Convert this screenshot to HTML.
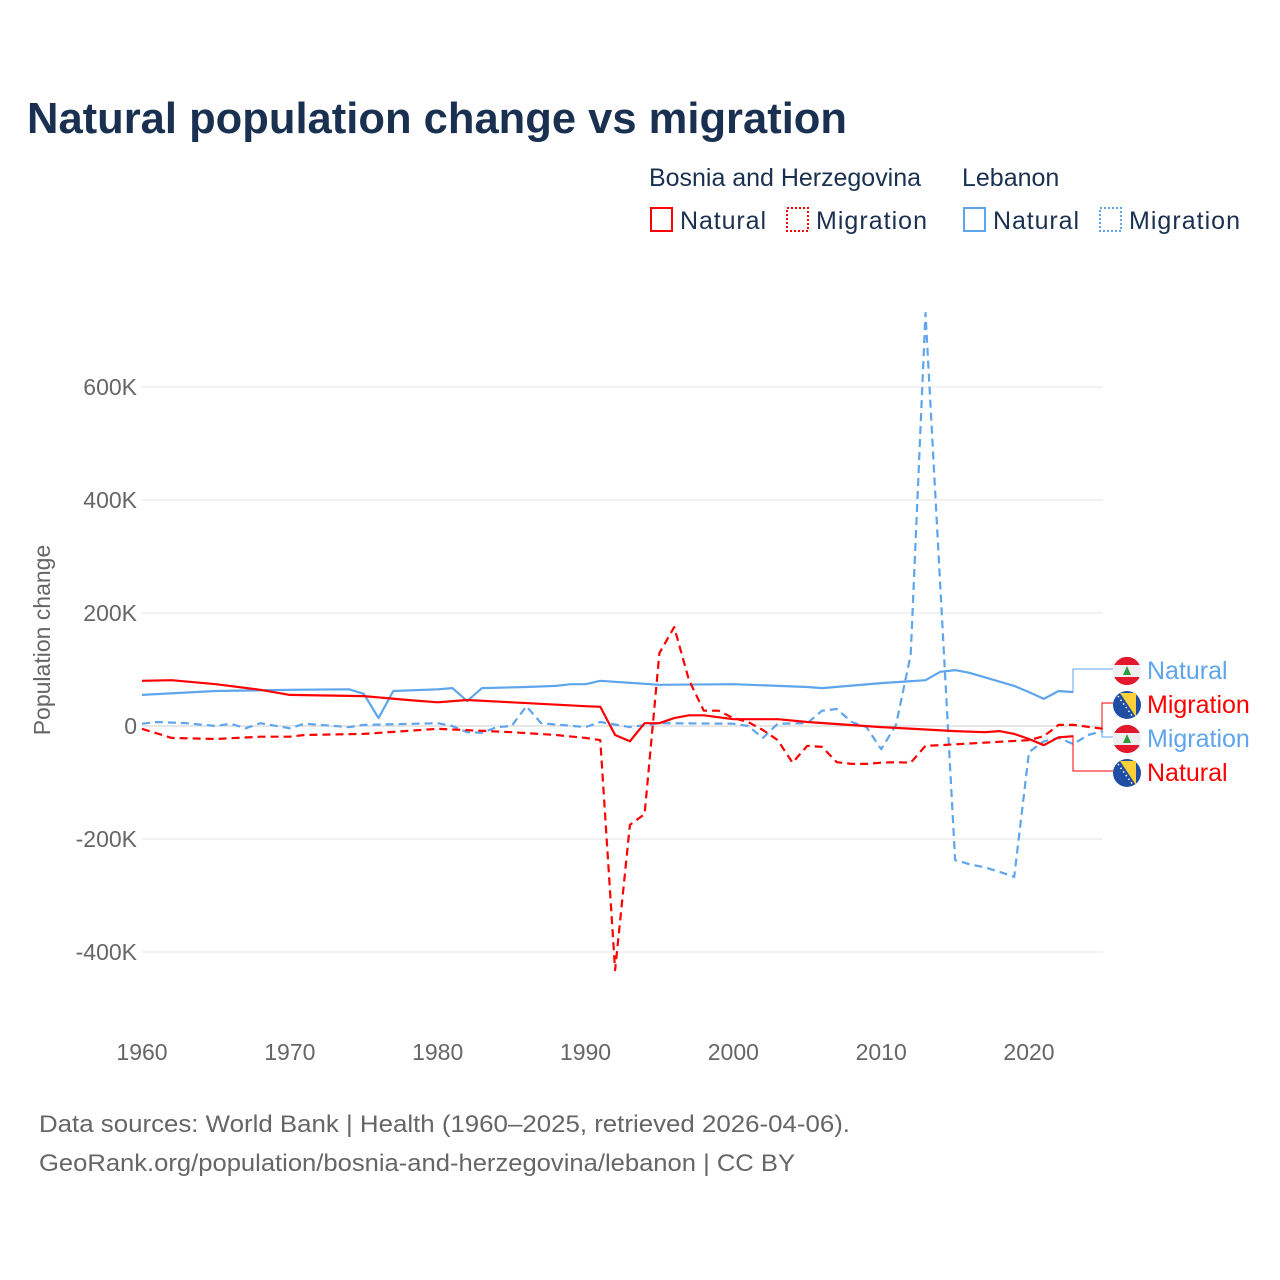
<!DOCTYPE html>
<html><head><meta charset="utf-8"><style>
body{margin:0;background:#fff;}
svg{display:block;font-family:"Liberation Sans",sans-serif;}
</style></head><body>
<svg id="chart" width="1280" height="1280" viewBox="0 0 1280 1280">
<text x="27" y="133" font-size="44" font-weight="bold" fill="#1a3050" textLength="820" lengthAdjust="spacingAndGlyphs">Natural population change vs migration</text>
<g font-size="25" fill="#1a3050">
<text x="649" y="186" textLength="272">Bosnia and Herzegovina</text>
<text x="962" y="186">Lebanon</text>
<g><rect x="651" y="208" width="21" height="23" fill="none" stroke="#f00" stroke-width="2"/><text x="680" y="229" textLength="86">Natural</text></g>
<g><rect x="787" y="208" width="21" height="23" fill="none" stroke="#f00" stroke-width="2" stroke-dasharray="2,2"/><text x="816" y="229" textLength="111">Migration</text></g>
<g><rect x="964" y="208" width="21" height="23" fill="none" stroke="#5ea5ec" stroke-width="2"/><text x="993" y="229" textLength="86">Natural</text></g>
<g><rect x="1100" y="208" width="21" height="23" fill="none" stroke="#5ea5ec" stroke-width="2" stroke-dasharray="2,2"/><text x="1129" y="229" textLength="111">Migration</text></g>
</g>
<g id="grid"></g>
<g id="yticks" font-size="23" fill="#666" text-anchor="end"></g>
<g id="xticks" font-size="23" fill="#666" text-anchor="middle"></g>
<text transform="translate(50,640) rotate(-90)" text-anchor="middle" font-size="23" fill="#666">Population change</text>
<g id="series"></g>
<g id="labels"></g>
<text x="39" y="1132" font-size="24" fill="#666" textLength="811" lengthAdjust="spacingAndGlyphs">Data sources: World Bank | Health (1960–2025, retrieved 2026-04-06).</text>
<text x="39" y="1171" font-size="24" fill="#666" textLength="756" lengthAdjust="spacingAndGlyphs">GeoRank.org/population/bosnia-and-herzegovina/lebanon | CC BY</text>
</svg>
<script>
const yTicks=[600,400,200,0,-200,-400];
const yTickLabels=["600K","400K","200K","0","-200K","-400K"];
const xTicks=[1960,1970,1980,1990,2000,2010,2020];
const bihNatYears=[1960,1962,1965,1968,1970,1975,1978,1980,1982,1985,1990,1991,1992,1993,1994,1995,1996,1997,1998,2000,2003,2005,2010,2015,2017,2018,2019,2020,2021,2022,2023];
const bihNat=[80,81,74,64,55,53,46,42,46,42,35,34,-16,-27,5,5,14,19,19,12,12,7,-2,-9,-11,-9,-14,-23,-34,-20,-18];
const bihMigYears=[1960,1962,1965,1968,1970,1971,1975,1980,1985,1988,1990,1991,1992,1993,1994,1995,1996,1997,1998,1999,2000,2001,2002,2003,2004,2005,2006,2007,2008,2009,2010,2011,2012,2013,2014,2020,2021,2022,2023,2025];
const bihMig=[-5,-21,-23,-19,-19,-16,-14,-5,-11,-16,-21,-25,-432,-175,-156,129,175,81,27,27,14,7,-7,-25,-65,-35,-37,-64,-67,-67,-65,-64,-65,-35,-34,-25,-18,2,2,-5];
const lbnNatYears=[1960,1965,1970,1974,1975,1976,1977,1980,1981,1982,1983,1986,1988,1989,1990,1991,1995,2000,2005,2006,2010,2013,2014,2015,2016,2019,2020,2021,2022,2023];
const lbnNat=[55,62,64,65,57,14,62,65,67,44,67,69,71,74,74,80,73,74,69,67,76,81,96,99,94,71,60,48,62,60];
const lbnMigYears=[1960,1961,1963,1965,1966,1967,1968,1970,1971,1974,1975,1980,1981,1982,1983,1984,1985,1986,1987,1990,1991,1993,1995,2000,2001,2002,2003,2005,2006,2007,2008,2009,2010,2011,2012,2013,2014,2015,2016,2017,2018,2019,2020,2021,2022,2023,2024,2025];
const lbnMig=[4,7,5,0,4,-4,5,-4,4,-2,2,5,0,-11,-12,-2,0,35,5,-2,7,-2,5,4,0,-21,4,5,27,30,7,-2,-41,2,126,731,247,-237,-245,-250,-258,-267,-46,-27,-21,-32,-16,-9];

const X=y=>142+(y-1960)*887/60;
const Y=v=>726-v*0.565;
const NS="http://www.w3.org/2000/svg";
function mk(tag,attrs,parent){const e=document.createElementNS(NS,tag);for(const k in attrs)e.setAttribute(k,attrs[k]);parent.appendChild(e);return e;}
const grid=document.getElementById('grid'),yt=document.getElementById('yticks'),xt=document.getElementById('xticks');
yTicks.forEach((t,i)=>{
 const l=mk('line',{x1:142,x2:1103,y1:Y(t),y2:Y(t),stroke:t===0?'#ccc':'#e6e6e6','stroke-width':1},grid);
 
 
 const tx=mk('text',{x:137,y:Y(t)+8},yt);tx.textContent=yTickLabels[i];
 
 
});
xTicks.forEach(t=>{
 const tx=mk('text',{x:X(t),y:1060},xt);tx.textContent=t;
 
 
});
const ser=document.getElementById('series');
function line(years,vals,color,dash,name){
 const d=years.map((y,i)=>(i?'L':'M')+X(y).toFixed(1)+','+Y(vals[i]).toFixed(1)).join(' ');
 const p=mk('path',{d:d,fill:'none',stroke:color,'stroke-width':2.2,'stroke-linejoin':'round'},ser);
 if(dash)p.setAttribute('stroke-dasharray','8,5');
 
 
}
line(lbnNatYears,lbnNat,'#5ea5ec',false,'line-lebanon-natural');
line(lbnMigYears,lbnMig,'#5ea5ec',true,'line-lebanon-migration');
line(bihNatYears,bihNat,'#f00',false,'line-bih-natural');
line(bihMigYears,bihMig,'#f00',true,'line-bih-migration');

const lab=document.getElementById('labels');
const labs=[
 {t:'Natural',c:'#5ea5ec',y:669,f:'lb',sx:X(2023),sy:Y(60),bx:1073,n:'label-lebanon-natural'},
 {t:'Migration',c:'#f00',y:703,f:'ba',sx:X(2025),sy:Y(-5),bx:1102,n:'label-bih-migration'},
 {t:'Migration',c:'#5ea5ec',y:737,f:'lb',sx:X(2025),sy:Y(-9),bx:1102,n:'label-lebanon-migration'},
 {t:'Natural',c:'#f00',y:771,f:'ba',sx:X(2023),sy:Y(-18),bx:1073,n:'label-bih-natural'}
];
labs.forEach(o=>{
 const g=mk('g',{},lab);
 
 
 mk('path',{d:`M${o.sx},${o.sy} H${o.bx} V${o.y} H1113`,fill:'none',stroke:o.c,'stroke-width':1},g);
 const cx=1127,cy=o.y+2,r=14;
 if(o.f==='lb'){
  mk('circle',{cx,cy,r,fill:'#eee'},g);
  mk('path',{d:`M${cx-12.7},${cy-6} A${r},${r} 0 0 1 ${cx+12.7},${cy-6} Z`,fill:'#e3182d'},g);
  mk('path',{d:`M${cx-12.7},${cy+6} A${r},${r} 0 0 0 ${cx+12.7},${cy+6} Z`,fill:'#e3182d'},g);
  mk('path',{d:`M${cx},${cy-5} L${cx+4},${cy+4} L${cx-4},${cy+4} Z`,fill:'#2a9d3c'},g);
 }else{
  mk('circle',{cx,cy,r,fill:'#1f4ea3'},g);
  mk('path',{d:`M${cx-7},${cy-12} L${cx+9},${cy-12} L${cx+9},${cy+12} Z`,fill:'#fdd039'},g);
  mk('line',{x1:cx-9,y1:cy-9,x2:cx+6,y2:cy+12,stroke:'#fff','stroke-width':1.5,'stroke-dasharray':'1.5,3'},g);
 }
 const tx=mk('text',{x:1147,y:o.y+10,'font-size':25,fill:o.c},g);tx.textContent=o.t;
});
</script>
</body></html>
